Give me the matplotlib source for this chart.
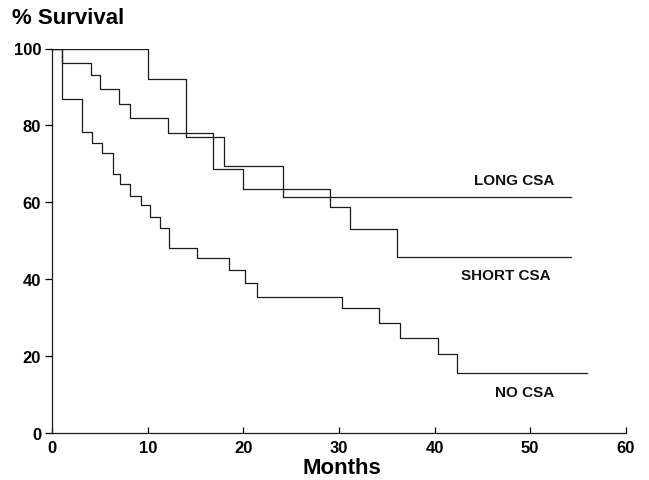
import matplotlib
matplotlib.use("Agg")
import matplotlib.pyplot as plt

plt.rcParams['font.family'] = ['Liberation Sans', 'DejaVu Sans']

# Kaplan-Meier style step data (months, % survival)
long_t = [0, 10.0, 14.0, 18.0, 24.1, 54.3]
long_s = [100, 92.0, 77.0, 69.4, 61.4, 61.4]

short_t = [0, 1.0, 4.0, 5.0, 7.0, 8.1, 12.1, 16.8, 20.0, 29.05, 31.1, 36.1, 54.3]
short_s = [100, 96.1, 93.0, 89.5, 85.6, 81.9, 77.9, 68.7, 63.5, 58.8, 53.0, 45.8, 45.8]

no_t = [0, 1.0, 3.1, 4.2, 5.2, 6.3, 7.1, 8.1, 9.3, 10.2, 11.3, 12.2, 15.1,
        18.5, 20.2, 21.4, 30.3, 34.2, 36.4, 40.4, 42.3, 55.9]
no_s = [100, 86.8, 78.4, 75.5, 72.9, 67.4, 64.7, 61.6, 59.3, 56.3, 53.2, 48.0, 45.5,
        42.3, 39.0, 35.5, 32.4, 28.7, 24.8, 20.5, 15.5, 15.5]

series_labels = ["LONG CSA", "SHORT CSA", "NO CSA"]
label_pos = [(48.3, 65.9), (47.5, 41.0), (49.4, 10.6)]

x_ticks = [0, 10, 20, 30, 40, 50, 60]
y_ticks = [0, 20, 40, 60, 80, 100]

fig = plt.figure(figsize=(6.49, 4.81), dpi=100)
ax = fig.add_axes([52.3 / 649, 1 - 434 / 481, (625.7 - 52.3) / 649, (434 - 49.5) / 481])

line_kw = dict(where='post', color='#1a1a1a', linewidth=0.9)
ax.step(long_t, long_s, **line_kw)
ax.step(short_t, short_s, **line_kw)
ax.step(no_t, no_s, **line_kw)

for lab, (lx, ly) in zip(series_labels, label_pos):
    ax.text(lx, ly, lab, ha='center', va='center', fontsize=11, fontweight='bold', color='#111111')

ax.set_xlim(0, 60)
ax.set_ylim(0, 100)
ax.set_xticks(x_ticks)
ax.set_yticks(y_ticks)
ax.spines['top'].set_visible(False)
ax.spines['right'].set_visible(False)
for sp in ('left', 'bottom'):
    ax.spines[sp].set_linewidth(0.9)
    ax.spines[sp].set_color('#1a1a1a')

ax.tick_params(axis='x', direction='in', length=4, width=0.9, pad=5, labelsize=12)
ax.tick_params(axis='y', direction='out', length=5, width=0.9, pad=3, labelsize=12)
for lbl in ax.get_xticklabels() + ax.get_yticklabels():
    lbl.set_fontweight('bold')

fig.text(12.5 / 649, 1 - 18.5 / 481, "% Survival", ha='left', va='center', fontsize=16, fontweight='bold')
fig.text(342 / 649, 1 - 469 / 481, "Months", ha='center', va='center', fontsize=16, fontweight='bold')

fig.savefig("out.png", dpi=100)
